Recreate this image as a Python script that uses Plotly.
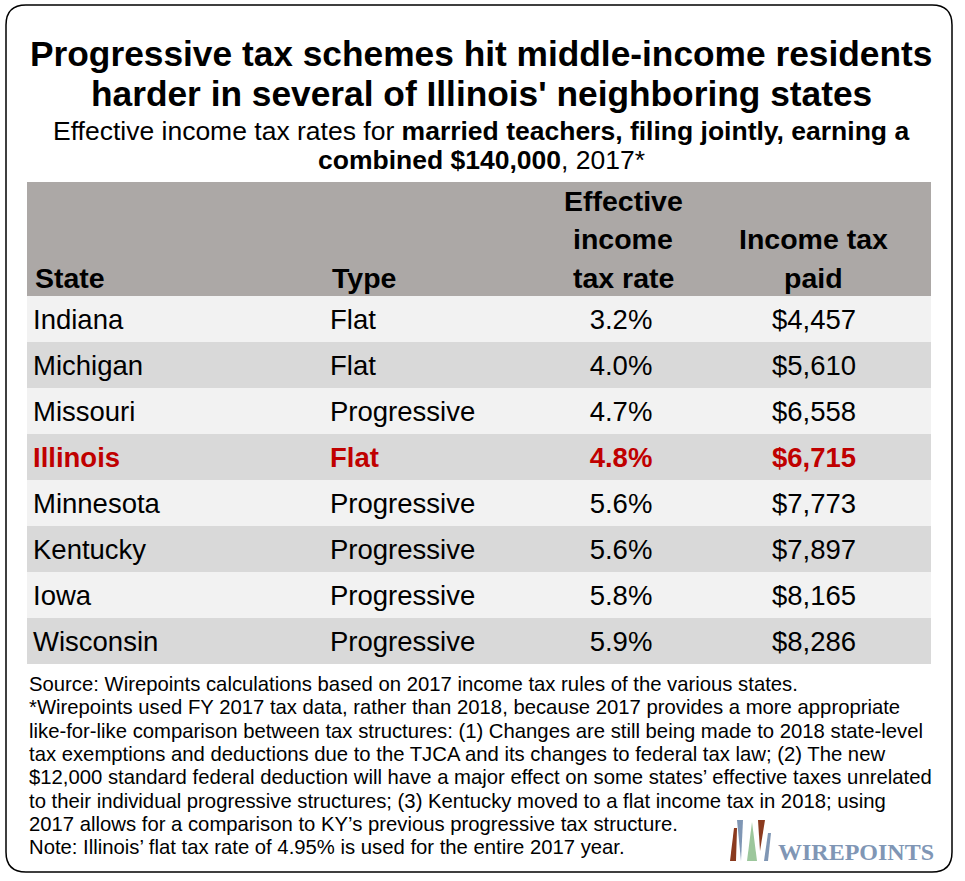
import plotly.graph_objects as go

# ---- data ----
states = ["Indiana", "Michigan", "Missouri", "Illinois", "Minnesota", "Kentucky", "Iowa", "Wisconsin"]
tax_types = ["Flat", "Flat", "Progressive", "Flat", "Progressive", "Progressive", "Progressive", "Progressive"]
effective_rates = [3.2, 4.0, 4.7, 4.8, 5.6, 5.6, 5.8, 5.9]
tax_paid = [4457, 5610, 6558, 6715, 7773, 7897, 8165, 8286]
highlight_state = "Illinois"
header_state = ["State"]
header_type = ["Type"]
header_rate = ["Effective", "income", "tax rate"]
header_paid = ["Income tax", "paid"]

title_lines = ["Progressive tax schemes hit middle-income residents",
               "harder in several of Illinois' neighboring states"]
subtitle_lines = ["Effective income tax rates for <b>married teachers, filing jointly, earning a</b>",
                  "<b>combined $140,000</b>, 2017*"]
footnote_lines = [
    "Source: Wirepoints calculations based on 2017 income tax rules of the various states.",
    "*Wirepoints used FY 2017 tax data, rather than 2018, because 2017 provides a more appropriate",
    "like-for-like comparison between tax structures: (1) Changes are still being made to 2018 state-level",
    "tax exemptions and deductions due to the TJCA and its changes to federal tax law; (2) The new",
    "$12,000 standard federal deduction will have a major effect on some states\u2019 effective taxes unrelated",
    "to their individual progressive structures; (3) Kentucky moved to a flat income tax in 2018; using",
    "2017 allows for a comparison to KY\u2019s previous progressive tax structure.",
    "Note: Illinois\u2019 flat tax rate of 4.95% is used for the entire 2017 year.",
]
logo_text = "WIREPOINTS"

# ---- styling ----
W, H = 965, 881
FONT = "Liberation Sans, Arial, sans-serif"
RED = "#c00000"
LIGHT = "#f2f2f2"
DARK = "#d9d9d9"
HEAD = "#aca8a6"
TBL_L, TBL_R, TBL_T, TBL_B = 27, 931, 182, 664
ROW_H = 46
HEAD_H = 114
TBL_W = TBL_R - TBL_L
ROW_FONT = 27.5
HEAD_FONT = 28.5
TEXT_DY = 3.5 / ROW_H  # small baseline nudge for row text


def px(x):
    return x / W


def py(y):
    return 1 - y / H


def head_y(page_y):
    # convert a page y (inside header band) to data units of the y axis
    return -0.5 - (TBL_T + HEAD_H - page_y) / ROW_H


n = len(states)
rows = list(range(n))
row_fill = [LIGHT if i % 2 == 0 else DARK for i in rows]


def styled(vals):
    return [f"<b>{v}</b>" if s == highlight_state else v for s, v in zip(states, vals)]


text_colors = [RED if s == highlight_state else "black" for s in states]

fig = go.Figure()
# row backgrounds
fig.add_trace(go.Bar(y=rows, x=[TBL_W] * n, base=0, orientation="h", width=1,
                     marker=dict(color=row_fill, line=dict(width=0)), hoverinfo="skip"))

columns = [
    (states, 6, "middle right"),
    (tax_types, 303, "middle right"),
    ([f"{v:.1f}%" for v in effective_rates], 594, "middle center"),
    ([f"${v:,.0f}" for v in tax_paid], 787, "middle center"),
]
for vals, xpos, tpos in columns:
    fig.add_trace(go.Scatter(x=[xpos] * n, y=[r + TEXT_DY for r in rows], mode="text", text=styled(vals),
                             textposition=tpos, cliponaxis=False, hoverinfo="skip",
                             textfont=dict(family=FONT, size=ROW_FONT, color=text_colors)))

annotations = []
# header labels (bottom aligned, 38.5 px line spacing)
for lines, xpos, anchor in [(header_state, 6, "left"), (header_type, 303, "left"),
                            (header_rate, 596, "center"), (header_paid, 786, "center")]:
    for k, line in enumerate(reversed(lines)):
        annotations.append(dict(text=f"<b>{line}</b>", x=xpos, y=head_y(278 - 38.5 * k),
                                xref="x", yref="y", showarrow=False, xanchor=anchor, yanchor="middle",
                                font=dict(family=FONT, size=HEAD_FONT, color="black")))

for i, t in enumerate(title_lines):
    annotations.append(dict(text=f"<b>{t}</b>", x=px(481), y=py(53 + 40 * i), xref="paper", yref="paper",
                            showarrow=False, xanchor="center", yanchor="middle",
                            font=dict(family=FONT, size=35.3, color="black")))
for i, t in enumerate(subtitle_lines):
    annotations.append(dict(text=t, x=px(481), y=py(131 + 29 * i), xref="paper", yref="paper",
                            showarrow=False, xanchor="center", yanchor="middle",
                            font=dict(family=FONT, size=26.5, color="black")))
for i, t in enumerate(footnote_lines):
    annotations.append(dict(text=t, x=px(27), y=py(684 + 23.3 * i), xref="paper", yref="paper",
                            showarrow=False, xanchor="left", yanchor="middle",
                            font=dict(family=FONT, size=20.3, color="black")))
annotations.append(dict(text=f"<b>{logo_text}</b>", x=px(776), y=py(852), xref="paper", yref="paper",
                        showarrow=False, xanchor="left", yanchor="middle",
                        font=dict(family="Liberation Serif, serif", size=24, color="#8096b5")))

# header band
shapes = [dict(type="rect", xref="x", yref="y", x0=0, x1=TBL_W, y0=-0.5, y1=-0.5 - HEAD_H / ROW_H,
               fillcolor=HEAD, line=dict(width=0), layer="below")]

# rounded border
L, R, T, B, r = px(6), px(952), py(5), py(872), 20
rx, ry = r / W, r / H
border = (f"M {L+rx},{T} L {R-rx},{T} Q {R},{T} {R},{T-ry} L {R},{B+ry} Q {R},{B} {R-rx},{B} "
          f"L {L+rx},{B} Q {L},{B} {L},{B+ry} L {L},{T-ry} Q {L},{T} {L+rx},{T} Z")
shapes.append(dict(type="path", xref="paper", yref="paper", path=border,
                   line=dict(color="black", width=1.5)))


def poly(pts, color):
    p = "M " + " L ".join(f"{px(x)},{py(y)}" for x, y in pts) + " Z"
    return dict(type="path", xref="paper", yref="paper", path=p, fillcolor=color, line=dict(width=0))


shapes += [
    poly([(734, 828), (737, 828), (736, 861), (730, 861)], "#8b3a1e"),
    poly([(737, 820), (743, 820), (741, 861)], "#7f96b4"),
    poly([(752, 822), (747, 861), (757, 861)], "#9cc79c"),
    poly([(758, 820), (765, 820), (760, 851)], "#8b3a1e"),
    poly([(768, 833), (771, 833), (768, 861), (764, 861)], "#7f96b4"),
]

fig.update_layout(
    width=W, height=H, margin=dict(l=0, r=0, t=0, b=0),
    paper_bgcolor="white", plot_bgcolor="white",
    xaxis=dict(range=[0, TBL_W], domain=[px(TBL_L), px(TBL_R)], visible=False, fixedrange=True),
    yaxis=dict(range=[n - 0.5, -0.5 - HEAD_H / ROW_H], domain=[py(TBL_B), py(TBL_T)],
               visible=False, fixedrange=True),
    annotations=annotations, shapes=shapes, showlegend=False, bargap=0,
)
fig.write_html("out.html", config={"displayModeBar": False},
               post_script="document.body.style.margin='0px';")
